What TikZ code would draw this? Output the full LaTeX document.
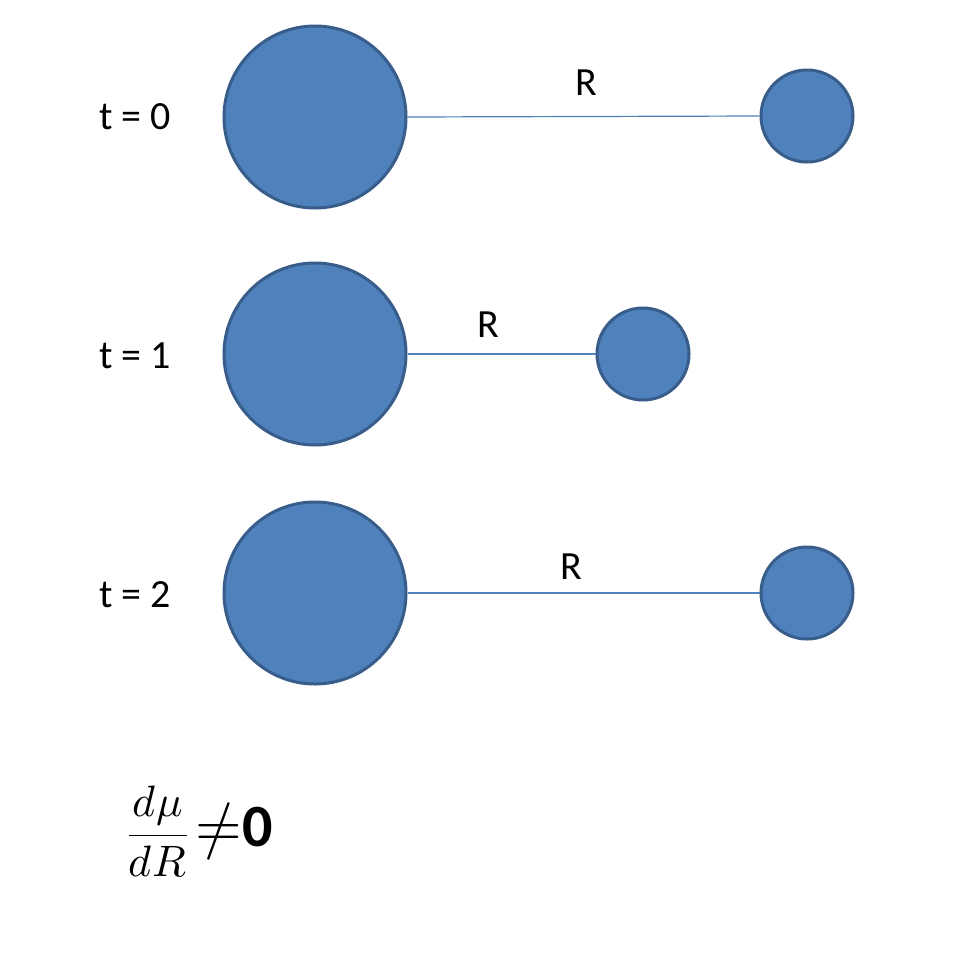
\documentclass[tikz,border=0pt]{standalone}
\usepackage{fontspec}
\setmainfont{Carlito}
\usepackage{unicode-math}
\setmathfont{Latin Modern Math}
\definecolor{fillb}{HTML}{4F81BD}
\definecolor{edgeb}{HTML}{385D8A}
\begin{document}
\begin{tikzpicture}[x=1pt,y=-1pt,
  ball/.style={circle,fill=fillb,draw=edgeb,line width=3pt,inner sep=0pt},
  big/.style={ball,minimum size=182pt},
  small/.style={ball,minimum size=92pt},
  link/.style={draw=fillb,line width=1.2pt},
  lab/.style={font=\fontsize{40}{44}\selectfont}]
\useasboundingbox (0,0) rectangle (968,962);
\fill[white] (0,0) rectangle (968,962);
\node[lab] (t0) at (135,117) {t = 0};
\node[lab] (t1) at (135,356) {t = 1};
\node[lab] (t2) at (135,595) {t = 2};
\node[big] (b0) at (315,117) {};
\node[big] (b1) at (315,354) {};
\node[big] (b2) at (315,593) {};
\node[small] (s0) at (807,116) {};
\node[small] (s1) at (643,354) {};
\node[small] (s2) at (807,593) {};
\path[link] (b0.east) -- (s0.west);
\path[link] (b1.east) -- (s1.west);
\path[link] (b2.east) -- (s2.west);
\node[lab] (r0) at (586,83) {R};
\node[lab] (r1) at (488,325) {R};
\node[lab] (r2) at (571,567) {R};
\node (f) at (200,832) {\fontsize{44}{48}\selectfont$\dfrac{d\mu}{dR}$\,{\fontsize{60}{60}\selectfont$\neq$\textbf{0}}};
\end{tikzpicture}
\end{document}
